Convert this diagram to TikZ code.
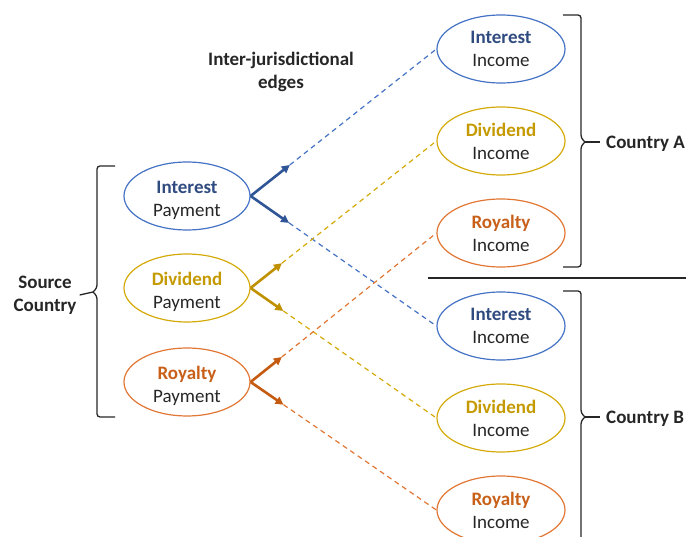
\documentclass[tikz,border=0pt]{standalone}
\usepackage{fontspec}
\setmainfont{Carlito}
\usetikzlibrary{shapes.geometric,arrows.meta,calc}

\definecolor{ink}{HTML}{262626}
\definecolor{intLine}{HTML}{4472C4}
\definecolor{intText}{HTML}{2F4B80}
\definecolor{intArrow}{HTML}{2F5597}
\definecolor{divLine}{HTML}{D4AA0A}
\definecolor{divText}{HTML}{C49A00}
\definecolor{divArrow}{HTML}{BF9000}
\definecolor{royLine}{HTML}{E27634}
\definecolor{royText}{HTML}{C8601A}
\definecolor{royArrow}{HTML}{C55A11}

% bold coloured first line of a flow label; the strut variant balances the
% descender of "Payment" so the two lines sit centred in the ellipse
\newcommand{\flowhead}[2]{{\bfseries\color{#1}#2}}
\newcommand{\payhead}[2]{\rule{0pt}{22pt}{\bfseries\color{#1}#2}}

\tikzset{
  txt/.style={font=\fontsize{19}{23}\selectfont, text=ink},
  flow/.style={ellipse, draw=#1, line width=1.2pt, inner sep=0pt, align=center, txt},
  pay/.style={flow=#1, minimum width=126pt, minimum height=63pt},
  inc/.style={flow=#1, minimum width=128pt, minimum height=68pt},
  lead/.style={-{Triangle[length=8pt,width=8pt]}, line width=2.6pt, draw=#1},
  cross/.style={dashed, dash pattern=on 5pt off 4pt, line width=1.2pt, draw=#1},
  bracket/.style={draw=ink, line width=1.3pt, rounded corners=3pt},
  heading/.style={font=\bfseries\fontsize{19}{23}\selectfont, text=ink, align=center}
}

\begin{document}
\begin{tikzpicture}[x=1pt, y=-1pt]
\useasboundingbox (0,0) rectangle (686,537);

% source-side payments
\node[pay=intLine] (ip) at (187,196) {\payhead{intText}{Interest}\\Payment};
\node[pay=divLine] (dp) at (187,288) {\payhead{divText}{Dividend}\\Payment};
\node[pay=royLine] (rp) at (187,382) {\payhead{royText}{Royalty}\\Payment};

% income in country A
\node[inc=intLine] (ia) at (501,49)  {\flowhead{intText}{Interest}\\Income};
\node[inc=divLine] (da) at (501,141) {\flowhead{divText}{Dividend}\\Income};
\node[inc=royLine] (ra) at (501,233) {\flowhead{royText}{Royalty}\\Income};

% income in country B
\node[inc=intLine] (ib) at (501,326) {\flowhead{intText}{Interest}\\Income};
\node[inc=divLine] (db) at (501,418) {\flowhead{divText}{Dividend}\\Income};
\node[inc=royLine] (rb) at (501,510) {\flowhead{royText}{Royalty}\\Income};

% labels
\node[heading] (edges) at (281,72) {Inter-jurisdictional\\edges};
\node[heading, inner sep=3pt] (src) at (45,295) {Source\\Country};
\node[heading, anchor=west, inner sep=6pt] (ca) at (600,144) {Country A};
\node[heading, anchor=west, inner sep=6pt] (cb) at (600,419) {Country B};

% solid lead-outs followed by dashed cross-border edges
\draw[lead=intArrow] (ip.east) -- ($(ip.east)!50pt!(ia.west)$) coordinate (ip1);
\draw[cross=intLine] (ip1) -- (ia.west);
\draw[lead=intArrow] (ip.east) -- ($(ip.east)!47pt!(ib.west)$) coordinate (ip2);
\draw[cross=intLine] (ip2) -- (ib.west);

\draw[lead=divArrow] (dp.east) -- ($(dp.east)!40pt!(da.west)$) coordinate (dp1);
\draw[cross=divLine] (dp1) -- (da.west);
\draw[lead=divArrow] (dp.east) -- ($(dp.east)!40pt!(db.west)$) coordinate (dp2);
\draw[cross=divLine] (dp2) -- (db.west);

\draw[lead=royArrow] (rp.east) -- ($(rp.east)!40pt!(ra.west)$) coordinate (rp1);
\draw[cross=royLine] (rp1) -- (ra.west);
\draw[lead=royArrow] (rp.east) -- ($(rp.east)!40pt!(rb.west)$) coordinate (rp2);
\draw[cross=royLine] (rp2) -- (rb.west);

% brace around the source payments
\coordinate (tipS) at (93,292);
\draw[bracket] (115,166) -- (97,166) -- (97,288) -- (tipS);
\draw[bracket] (tipS) -- (97,296) -- (97,417) -- (115,417);
\draw[draw=ink, line width=1.3pt] (tipS) -- (src.east);

% brace around country A
\coordinate (tipA) at (585,142);
\draw[bracket] (563,15) -- (581,15) -- (581,138) -- (tipA);
\draw[bracket] (tipA) -- (581,146) -- (581,267) -- (563,267);
\draw[draw=ink, line width=1.3pt] (tipA) -- (ca.west |- tipA);

% separator between the two countries
\draw[draw=ink, line width=1.3pt] (428,278) -- (686,278);

% brace around country B
\coordinate (tipB) at (585,417);
\draw[bracket] (563,291) -- (581,291) -- (581,413) -- (tipB);
\draw[bracket] (tipB) -- (581,421) -- (581,545);
\draw[draw=ink, line width=1.3pt] (tipB) -- (cb.west |- tipB);
\end{tikzpicture}
\end{document}
